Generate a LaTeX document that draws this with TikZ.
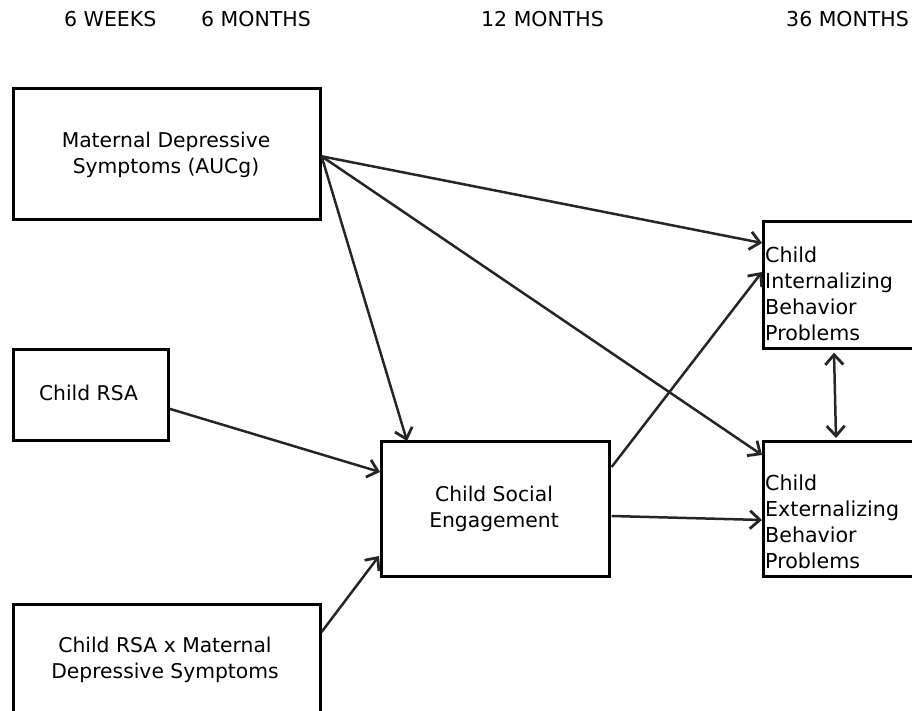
\documentclass[tikz,border=0pt]{standalone}
\usepackage{fontspec}
\setmainfont{DejaVu Sans}
\usetikzlibrary{arrows.meta}
\tikzset{
  box/.style={draw, line width=2.6pt, inner sep=0pt, anchor=north west},
  lbl/.style={inner sep=0pt, align=center, font=\fontsize{20.3}{26}\selectfont},
  lbll/.style={inner sep=0pt, align=left, anchor=west, font=\fontsize{20.6}{26}\selectfont},
  head/.style={inner sep=0pt, anchor=base west, font=\fontsize{20.5}{24}\selectfont},
  tipb/.tip={Straight Barb[length=10pt,width=18pt,line width=2.8pt]},
  conn/.style={line width=2.5pt, draw=black!85, -tipb},
  conn2/.style={line width=2.5pt, draw=black!85, tipb-tipb}
}
\begin{document}
\begin{tikzpicture}[x=1pt,y=-1pt]
\useasboundingbox (0,0) rectangle (912,711);
\clip (0,0) rectangle (912,711);
% headers
\node[head] (h1) at (64,27) {6 WEEKS};
\node[head] (h2) at (201,27) {6 MONTHS};
\node[head] (h3) at (481,27) {12 MONTHS};
\node[head] (h4) at (786,27) {36 MONTHS};
% boxes
\node[box, minimum width=307pt, minimum height=131pt] (mat) at (12,87) {};
\node[box, minimum width=155pt, minimum height=91pt] (rsa) at (12,348) {};
\node[box, minimum width=307pt, minimum height=130pt] (bot) at (12,603) {};
\node[box, minimum width=228pt, minimum height=135pt] (soc) at (380,440) {};
\node[box, minimum width=180pt, minimum height=127pt] (int) at (762,220) {};
\node[box, minimum width=180pt, minimum height=135pt] (ext) at (762,440) {};
% texts
\node[lbl] (tmat) at (166,154.5) {Maternal Depressive\\Symptoms (AUCg)};
\node[lbl] (trsa) at (88.5,393.4) {Child RSA};
\node[lbl] (tbot) at (165,659.5) {Child RSA x Maternal\\Depressive Symptoms};
\node[lbl] (tsoc) at (494,508.5) {Child Social\\Engagement};
\node[lbll] (tint) at (765,293.4) {Child\\Internalizing\\Behavior\\Problems};
\node[lbll] (text) at (765,521.4) {Child\\Externalizing\\Behavior\\Problems};
% connectors
\draw[conn] ([yshift=-2.5pt]mat.east) -- ([yshift=-23pt]int.north west);
\draw[conn] ([yshift=-2.5pt]mat.east) -- ([xshift=27pt,yshift=-1pt]soc.north west);
\draw[conn] ([yshift=-2.5pt]mat.east) -- ([yshift=-15pt]ext.north west);
\draw[conn] ([yshift=-14pt]rsa.east) -- ([yshift=-32pt]soc.north west);
\draw[conn] ([yshift=-29pt]bot.north east) -- ([xshift=-1pt,yshift=-116pt]soc.north west);
\draw[conn] ([xshift=1pt,yshift=-27pt]soc.north east) -- ([yshift=-52pt]int.north west);
\draw[conn] ([xshift=1pt,yshift=-76pt]soc.north east) -- ([yshift=-80pt]ext.north west);
\draw[conn2] ([xshift=72pt,yshift=-3pt]int.south west) -- ([xshift=74pt,yshift=2pt]ext.north west);
\end{tikzpicture}
\end{document}
